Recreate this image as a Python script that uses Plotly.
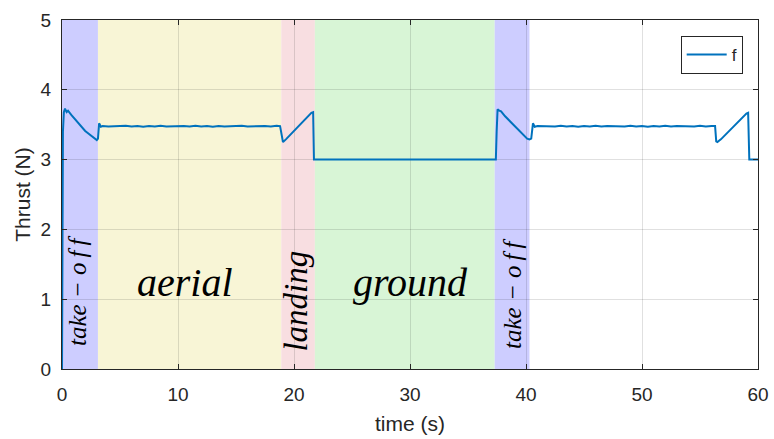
import plotly.graph_objects as go

# ---------------- data ----------------
time_s = [
    0.0, 0.08, 0.16, 0.26, 0.4, 0.52, 0.8, 1.1, 1.4, 1.7, 2.0, 2.3, 2.6, 2.85, 3.0, 3.1,
    3.2, 3.35, 3.5, 4.0, 4.5, 5.0, 5.5, 6.0, 6.5, 7.0, 7.5, 8.0, 8.5, 9.0, 9.5, 10.0,
    10.5, 11.0, 11.5, 12.0, 12.5, 13.0, 13.5, 14.0, 14.5, 15.0, 15.5, 16.0, 16.5, 17.0,
    17.5, 18.0, 18.5, 18.8,
    18.95, 19.05, 19.3, 19.7, 20.1, 20.5, 20.9, 21.3, 21.5, 21.65, 21.72,
    21.8, 25.0, 30.0, 35.0, 37.4,
    37.47, 37.55, 37.7, 37.85, 38.2, 38.6, 39.0, 39.4, 39.8, 40.1, 40.3, 40.45,
    40.6, 40.75, 41.0, 41.5, 42.0, 42.5, 43.0, 43.5, 44.0, 44.5, 45.0, 45.5, 46.0, 46.5,
    47.0, 47.5, 48.0, 48.5, 49.0, 49.5, 50.0, 50.5, 51.0, 51.5, 52.0, 52.5, 53.0, 53.5,
    54.0, 54.5, 55.0, 55.5, 56.0, 56.3,
    56.4, 56.5, 56.8, 57.2, 57.6, 58.0, 58.4, 58.8, 59.0, 59.15, 59.25, 60.0,
]
thrust_N = [
    0.0, 3.40, 3.68, 3.73, 3.68, 3.70, 3.64, 3.58, 3.52, 3.46, 3.41, 3.37, 3.33, 3.30, 3.28, 3.30,
    3.52, 3.47, 3.48, 3.475, 3.48, 3.475, 3.485, 3.475, 3.48, 3.47, 3.48, 3.475, 3.485, 3.475, 3.48, 3.475,
    3.48, 3.475, 3.485, 3.475, 3.48, 3.47, 3.48, 3.475, 3.48, 3.475, 3.485, 3.475, 3.48, 3.475,
    3.48, 3.475, 3.485, 3.48,
    3.30, 3.25, 3.29, 3.36, 3.43, 3.50, 3.57, 3.63, 3.67, 3.68, 3.00,
    3.00, 3.00, 3.00, 3.00, 3.00,
    3.40, 3.72, 3.70, 3.69, 3.62, 3.55, 3.48, 3.41, 3.34, 3.30, 3.29, 3.30,
    3.52, 3.47, 3.48, 3.475, 3.48, 3.475, 3.485, 3.475, 3.48, 3.47, 3.48, 3.475, 3.485, 3.475,
    3.48, 3.475, 3.48, 3.475, 3.485, 3.475, 3.48, 3.47, 3.48, 3.475, 3.485, 3.475, 3.48, 3.475,
    3.48, 3.475, 3.485, 3.475, 3.48, 3.48,
    3.26, 3.25, 3.29, 3.36, 3.43, 3.50, 3.57, 3.63, 3.66, 3.67, 3.00, 3.00,
]

phase_start = [0.0, 3.1, 18.9, 21.8, 37.3]
phase_end = [3.1, 18.9, 21.8, 37.3, 40.3]
phase_name = ["take−off", "aerial", "landing", "ground", "take−off"]

x_ticks = [0, 10, 20, 30, 40, 50, 60]
y_ticks = [0, 1, 2, 3, 4, 5]

# ---------------- styles ----------------
phase_colors = {
    "take−off": "rgb(205,205,255)",
    "aerial": "rgb(248,245,214)",
    "landing": "rgb(248,222,225)",
    "ground": "rgb(216,245,214)",
}
line_color = "#0072BD"
axis_font = "Liberation Sans, Arial, sans-serif"
math_font = "Liberation Serif, Times New Roman, serif"

fig = go.Figure()

for s, e, n in zip(phase_start, phase_end, phase_name):
    fig.add_shape(type="rect", xref="x", yref="y", x0=s, x1=e, y0=0, y1=5,
                  fillcolor=phase_colors[n], line_width=0, layer="below")

fig.add_trace(go.Scatter(x=time_s, y=thrust_N, mode="lines", name="f",
                         line=dict(color=line_color, width=2)))

# label placement (x, y, angle, size) per phase
label_pos = [(1.4, 1.12, -90, 25), (10.6, 1.24, 0, 40), (20.2, 0.97, -90, 33),
             (30.05, 1.24, 0, 40), (38.85, 1.07, -90, 25)]
for n, (lx, ly, ang, sz) in zip(phase_name, label_pos):
    txt = n.replace("−", " − ").replace("off", "o\u2009f\u2009f") if "−" in n else n
    fig.add_annotation(x=lx, y=ly, xref="x", yref="y", text=f"<i>{txt}</i>",
                       showarrow=False, textangle=ang,
                       font=dict(family=math_font, size=sz, color="black"))

fig.update_layout(
    width=774, height=439,
    margin=dict(l=62, r=16, t=20, b=70, autoexpand=False),
    paper_bgcolor="white", plot_bgcolor="white",
    font=dict(family=axis_font, color="#262626"),
    showlegend=True,
    legend=dict(x=0.978, y=0.954, xanchor="right", yanchor="top",
                bgcolor="white", bordercolor="#262626", borderwidth=1,
                font=dict(size=17, family=axis_font, color="#262626"),
                itemwidth=40, tracegroupgap=0),
    xaxis=dict(range=[0, 60], tickvals=x_ticks, ticks="inside", ticklen=5,
               tickcolor="#262626", mirror="ticks", showline=True, automargin=False,
               linecolor="#262626", linewidth=1, showgrid=True,
               gridcolor="rgba(0,0,0,0.12)", zeroline=False,
               tickfont=dict(size=19), ticklabelstandoff=8,
               title=dict(text="time (s)", font=dict(size=21), standoff=12)),
    yaxis=dict(range=[0, 5], tickvals=y_ticks, ticks="inside", ticklen=5,
               tickcolor="#262626", mirror="ticks", showline=True, automargin=False,
               linecolor="#262626", linewidth=1, showgrid=True,
               gridcolor="rgba(0,0,0,0.12)", zeroline=False,
               tickfont=dict(size=19), ticklabelstandoff=6,
               title=dict(text="Thrust (N)", font=dict(size=21), standoff=4)),
)

fig.write_html("out.html", config={"displayModeBar": False},
               post_script="document.body.style.margin='0';document.body.style.padding='0';")
